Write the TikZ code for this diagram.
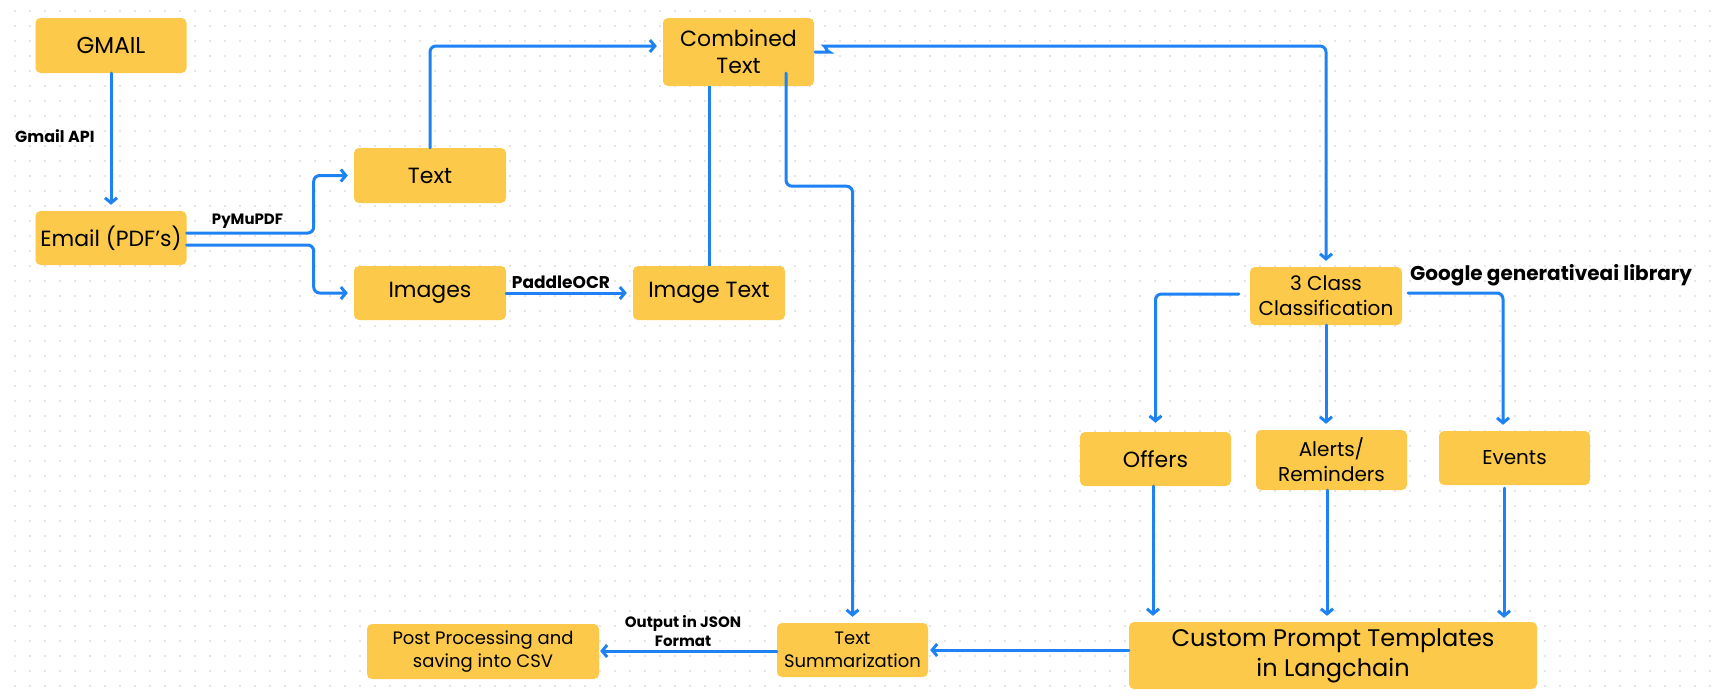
\documentclass[tikz,border=0pt]{standalone}
\usepackage{fontspec}
\setmainfont{Poppins}
\usetikzlibrary{arrows.meta,calc}
\definecolor{boxy}{HTML}{FCC94A}
\definecolor{flow}{HTML}{1E82F5}
\definecolor{griddot}{HTML}{DCDCDC}
\tikzset{
 box/.style={fill=boxy, rounded corners=5pt, inner sep=0pt, align=center, text=black,
   minimum width=151pt, minimum height=55pt, font=\fontsize{22}{27}\selectfont},
 midbox/.style={box, font=\fontsize{20}{25}\selectfont},
 smallbox/.style={box, font=\fontsize{18}{23}\selectfont},
 lbl/.style={font=\bfseries\fontsize{16}{19}\selectfont, inner sep=0pt, align=center, text=black},
 arr/.style={draw=flow, line width=3pt, rounded corners=6pt, line cap=round,
   -{Straight Barb[length=5pt,width=12pt,line width=3pt]}, shorten >=6pt},
 link/.style={draw=flow, line width=3pt, rounded corners=6pt},
}
\begin{document}
\begin{tikzpicture}[x=1pt,y=-1pt]
\useasboundingbox (0,0) rectangle (1714,699);
\fill[white] (0,0) rectangle (1714,699);
\foreach \i in {0,...,113}{\foreach \j in {0,...,45}{\fill[griddot] (15+15*\i,11+15*\j) circle (1.1pt);}}

% nodes
\node[box, font=\fontsize{23}{27}\selectfont] (gmail) at (111,45.5) {GMAIL};
\node[box, minimum height=54pt] (email) at (111,238) {Email (PDF’s)};
\node[box, minimum width=152pt] (text) at (430,175.5) {Text};
\node[box, minimum width=152pt, minimum height=54pt] (images) at (430,293) {Images};
\node[box, minimum height=68pt] (comb) at (738.5,52) {Combined\\Text};
\node[box, minimum width=152pt, minimum height=54pt] (imgtext) at (709,293) {Image Text};
\node[midbox, minimum width=152pt, minimum height=58pt] (cls) at (1326,296) {3 Class\\Classification};
\node[box, minimum height=54pt] (offers) at (1155.5,459) {Offers};
\node[midbox, minimum height=60pt] (alerts) at (1331.5,460) {Alerts/\\Reminders};
\node[midbox, minimum height=54pt] (events) at (1514.5,458) {Events};
\node[box, minimum width=408pt, minimum height=67pt, font=\fontsize{24}{30}\selectfont] (custom) at (1333,655.5) {Custom Prompt Templates\\in Langchain};
\node[smallbox, minimum height=54pt] (summ) at (852.5,650) {Text\\Summarization};
\node[smallbox, minimum width=232pt] (post) at (483,651.5) {Post Processing and\\saving into CSV};

% labels
\node[lbl, anchor=west] (lgapi) at (15,136) {Gmail API};
\node[lbl, font=\bfseries\fontsize{15}{19}\selectfont] (lpymu) at (247.5,221) {PyMuPDF};
\node[lbl, font=\bfseries\fontsize{17}{20}\selectfont] (lpaddle) at (561,282) {PaddleOCR};
\node[lbl, anchor=west, font=\bfseries\fontsize{20}{24}\selectfont] (lgoogle) at (1410,275) {Google generativeai library};
\node[lbl, font=\bfseries\fontsize{15}{19}\selectfont] (ljson) at (683,631) {Output in JSON\\Format};

% connectors
\draw[arr] (gmail.south) -- (email.north);
\draw[arr] ([yshift=5pt]email.east) -- ++(127,0) |- (text.west);
\draw[arr] ([yshift=-7pt]email.east) -- ++(127,0) |- (images.west);
\draw[arr] (text.north) |- ([yshift=6pt]comb.west);
\draw[arr] (images.east) -- (imgtext.west);
\draw[link] (imgtext.north) -- (imgtext.north |- comb.south);
\draw[arr] ([xshift=47.5pt,yshift=13pt]comb.south) -- ++(0,113) -| (summ.north);
\draw[arr] ([xshift=1pt]comb.east) -- ($(comb.east)+(9,0)$)
   .. controls ($(comb.east)+(13,0)$) and ($(comb.east)+(11,-6)$) .. ($(comb.east)+(16,-6)$)
   -- ($(comb.east)+(24,-6)$) -| (cls.north);
\draw[arr, shorten >=9pt] ([xshift=-11pt,yshift=2pt]cls.west) -| (offers.north);
\draw[arr] (cls.south) -- (cls.south |- alerts.north);
\draw[arr] ([xshift=6pt,yshift=3pt]cls.east) -| ([xshift=-11.5pt]events.north);
\draw[arr] ([xshift=-2.5pt]offers.south) -- ([xshift=-2.5pt]offers.south |- custom.north);
\draw[arr] ([xshift=-4.5pt]alerts.south) -- ([xshift=-4.5pt]alerts.south |- custom.north);
\draw[arr, shorten >=4pt] ([xshift=-10.5pt,yshift=-3pt]events.south) -- ([xshift=-10.5pt]events.south |- custom.north);
\draw[arr, shorten >=2pt] ([yshift=5.5pt]custom.west) -- ([yshift=5.5pt]custom.west -| summ.east);
\draw[arr, shorten >=1pt] ([yshift=-1pt]summ.west) -- ([yshift=-1pt]summ.west -| post.east);
\end{tikzpicture}
\end{document}
